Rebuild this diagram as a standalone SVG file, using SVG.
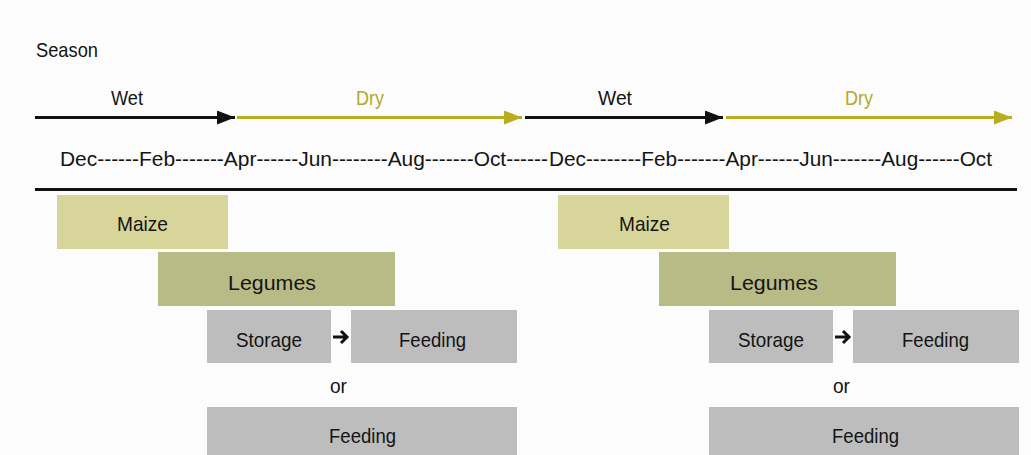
<svg xmlns="http://www.w3.org/2000/svg" width="1031" height="455" viewBox="0 0 1031 455">
<defs>
<style>
text{font-family:"Liberation Sans",Arial,sans-serif;fill:#141414;font-size:21px}
.dry{fill:#b3a82a}
.maize{fill:#d8d59b}
.leg{fill:#b9bb86}
.gray{fill:#bdbdbd}
.blk{stroke:#111;stroke-width:3;fill:none}
.olv{stroke:#b8ad1e;stroke-width:3;fill:none}
</style>
<marker id="hb" markerUnits="userSpaceOnUse" markerWidth="20" markerHeight="14" refX="18" refY="7" orient="auto"><path d="M0,0 L18,7 L0,14 Z" fill="#111"/></marker>
<marker id="ho" markerUnits="userSpaceOnUse" markerWidth="20" markerHeight="14" refX="18" refY="7" orient="auto"><path d="M0,0 L18,7 L0,14 Z" fill="#b8ad1e"/></marker>
</defs>
<rect width="1031" height="455" fill="#fcfcfc"/>

<g id="header">
<text x="36" y="57" textLength="62" lengthAdjust="spacingAndGlyphs">Season</text>
<text x="111" y="105" textLength="32" lengthAdjust="spacingAndGlyphs">Wet</text>
<text class="dry" x="356" y="105" textLength="28" lengthAdjust="spacingAndGlyphs">Dry</text>
<text x="598" y="105" textLength="34" lengthAdjust="spacingAndGlyphs">Wet</text>
<text class="dry" x="845" y="105" textLength="28" lengthAdjust="spacingAndGlyphs">Dry</text>
<text x="60" y="166" font-size="22" textLength="488" lengthAdjust="spacingAndGlyphs">Dec------Feb-------Apr------Jun--------Aug-------Oct------</text>
<text x="549" y="166" font-size="22" textLength="443" lengthAdjust="spacingAndGlyphs">Dec--------Feb-------Apr------Jun-------Aug------Oct</text>
</g>

<g id="connectors">
<line class="blk" x1="35" y1="117.5" x2="235" y2="117.5" marker-end="url(#hb)"/>
<line class="olv" x1="237" y1="117.5" x2="522" y2="117.5" marker-end="url(#ho)"/>
<line class="blk" x1="525" y1="117.5" x2="723" y2="117.5" marker-end="url(#hb)"/>
<line class="olv" x1="726" y1="117.5" x2="1012" y2="117.5" marker-end="url(#ho)"/>
<line x1="35" y1="189.5" x2="1017" y2="189.5" stroke="#111" stroke-width="3"/>
<path class="blk" d="M333,337 H347 M341,331 L347,337 L341,343"/>
<path class="blk" d="M835,337 H849 M843,331 L849,337 L843,343"/>
</g>

<g id="left">
<g id="maize-1"><rect class="maize" x="57" y="195" width="171" height="54"/><text x="117" y="231" textLength="51" lengthAdjust="spacingAndGlyphs">Maize</text></g>
<g id="legumes-1"><rect class="leg" x="158" y="252" width="237" height="54"/><text x="228" y="290" textLength="88" lengthAdjust="spacingAndGlyphs">Legumes</text></g>
<g id="storage-1"><rect class="gray" x="207" y="310" width="124" height="53"/><text x="236" y="347" textLength="66" lengthAdjust="spacingAndGlyphs">Storage</text></g>
<g id="feeding-1a"><rect class="gray" x="351" y="310" width="166" height="53"/><text x="399" y="347" textLength="67" lengthAdjust="spacingAndGlyphs">Feeding</text></g>
<text x="330" y="393" textLength="17" lengthAdjust="spacingAndGlyphs">or</text>
<g id="feeding-1b"><rect class="gray" x="207" y="407" width="310" height="48"/><text x="329" y="443" textLength="67" lengthAdjust="spacingAndGlyphs">Feeding</text></g>
</g>

<g id="right">
<g id="maize-2"><rect class="maize" x="558" y="195" width="171" height="54"/><text x="619" y="231" textLength="51" lengthAdjust="spacingAndGlyphs">Maize</text></g>
<g id="legumes-2"><rect class="leg" x="659" y="252" width="237" height="54"/><text x="730" y="290" textLength="88" lengthAdjust="spacingAndGlyphs">Legumes</text></g>
<g id="storage-2"><rect class="gray" x="709" y="310" width="124" height="53"/><text x="738" y="347" textLength="66" lengthAdjust="spacingAndGlyphs">Storage</text></g>
<g id="feeding-2a"><rect class="gray" x="853" y="310" width="166" height="53"/><text x="902" y="347" textLength="67" lengthAdjust="spacingAndGlyphs">Feeding</text></g>
<text x="833" y="393" textLength="17" lengthAdjust="spacingAndGlyphs">or</text>
<g id="feeding-2b"><rect class="gray" x="709" y="407" width="310" height="48"/><text x="832" y="443" textLength="67" lengthAdjust="spacingAndGlyphs">Feeding</text></g>
</g>
</svg>
